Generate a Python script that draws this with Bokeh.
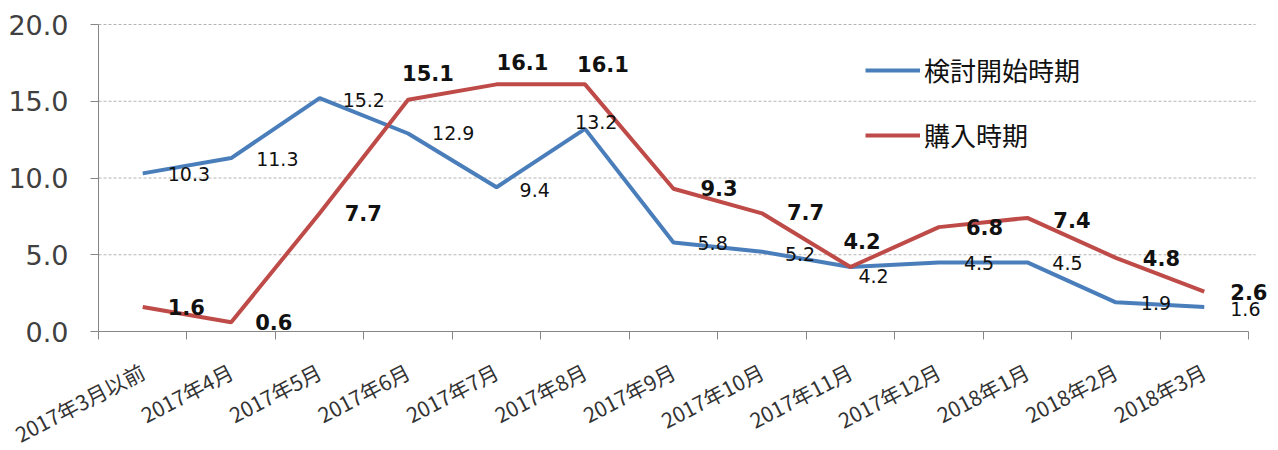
import numpy as np
from bokeh.plotting import figure
from bokeh.models import ColumnDataSource, Range1d, FixedTicker, Legend, LegendItem
from bokeh.core.properties import value
from bokeh.embed import file_html
from bokeh.resources import INLINE

categories = ["2017年3月以前", "2017年4月", "2017年5月", "2017年6月", "2017年7月",
              "2017年8月", "2017年9月", "2017年10月", "2017年11月", "2017年12月",
              "2018年1月", "2018年2月", "2018年3月"]
kentou = [10.3, 11.3, 15.2, 12.9, 9.4, 13.2, 5.8, 5.2, 4.2, 4.5, 4.5, 1.9, 1.6]
kounyu = [1.6, 0.6, 7.7, 15.1, 16.1, 16.1, 9.3, 7.7, 4.2, 6.8, 7.4, 4.8, 2.6]
series_names = ["検討開始時期", "購入時期"]
y_ticks = [0, 5, 10, 15, 20]

# label offsets (screen px) for data labels
blue_dx = [25, 25, 23, 24, 23, -10, 24, 23, 8, 25, 25, 25, 26]
blue_dy = [1, 1, 2, 0, 3, -7, 1, 2, 9, 1, 1, 1, 2]
red_dx = [25, 24, 25, -6, 0, -8, 27, 25, -7, 27, 26, 27, 26]
red_dy = [0, 0, 0, -27, -22, -20, -1, -1, -26, 0, 2, 0, 0]

n = len(categories)
xs = [i + 0.5 for i in range(n)]

BLUE = "#4a7ebb"
RED = "#be4b48"

# layout in pixels: the frame covers the whole canvas, the axes sit inside it
W, H = 1278, 450
AX_X, AX_Y = 98, 331     # pixel position of the axes' origin
AXIS_W = 1150            # pixels spanned by the 13 categories
PLOT_H = 307             # pixels spanned by 0..20
y_top = y_ticks[-1]
ux = n / AXIS_W          # data units per pixel
uy = y_top / PLOT_H
x_range = Range1d(-AX_X * ux, (W - AX_X) * ux)
y_range = Range1d(-(H - AX_Y) * uy, AX_Y * uy)

p = figure(width=W, height=H, output_backend="svg", toolbar_location=None,
           x_range=x_range, y_range=y_range,
           min_border_left=0, min_border_right=0, min_border_top=0,
           min_border_bottom=0)
p.outline_line_color = None
p.xgrid.visible = False
p.ygrid.visible = False

# horizontal dashed grid lines, stopping just past the last category
p.segment(x0=[0] * (len(y_ticks) - 1), x1=[n + 0.08] * (len(y_ticks) - 1),
          y0=y_ticks[1:], y1=y_ticks[1:], line_color="#b4b4b4",
          line_dash="3 2", line_width=1)

# x axis at y=0: labels at category centres, tick marks between categories
xa = p.xaxis[0]
xa.fixed_location = 0
xa.bounds = (0, n)
xa.ticker = FixedTicker(ticks=xs, minor_ticks=list(range(n + 1)))
xa.major_label_overrides = {x: c for x, c in zip(xs, categories)}
xa.major_tick_out = 0
xa.major_tick_in = 0
xa.minor_tick_out = 8
xa.minor_tick_in = 0
xa.minor_tick_line_color = "#868686"
xa.axis_line_color = "#868686"
xa.major_label_orientation = 0.48
xa.major_label_text_font = "Noto Sans CJK JP"
xa.major_label_text_font_size = "21px"
xa.major_label_text_color = "#333333"
xa.major_label_standoff = 30

# y axis at x=0
ya = p.yaxis[0]
ya.fixed_location = 0
ya.bounds = (0, y_top)
ya.ticker = FixedTicker(ticks=y_ticks, minor_ticks=[])
ya.major_label_overrides = {t: f"{t:.1f}" for t in y_ticks}
ya.major_tick_out = 8
ya.major_tick_in = 0
ya.major_tick_line_color = "#868686"
ya.axis_line_color = "#868686"
ya.major_label_text_font = "DejaVu Sans"
ya.major_label_text_font_size = "27px"
ya.major_label_text_color = "#404040"
ya.major_label_standoff = 22

src_b = ColumnDataSource(dict(x=xs, y=kentou, label=[f"{v:.1f}" for v in kentou], dx=blue_dx, dy=blue_dy))
src_r = ColumnDataSource(dict(x=xs, y=kounyu, label=[f"{v:.1f}" for v in kounyu], dx=red_dx, dy=red_dy))

r1 = p.line("x", "y", source=src_b, line_color=BLUE, line_width=4)
r2 = p.line("x", "y", source=src_r, line_color=RED, line_width=4)

p.text("x", "y", text="label", source=src_b, x_offset="dx", y_offset="dy",
       text_font=value("DejaVu Sans"), text_font_size="19px", text_color="#111111",
       text_align="left", text_baseline="middle")
p.text("x", "y", text="label", source=src_r, x_offset="dx", y_offset="dy",
       text_font=value("DejaVu Sans"), text_font_style="bold", text_font_size="21px",
       text_color="#111111", text_align="left", text_baseline="middle")

# legend placed in pixels from the canvas' bottom-left corner
legend = Legend(items=[LegendItem(label=series_names[0], renderers=[r1]),
                       LegendItem(label=series_names[1], renderers=[r2])],
                location=(865, 297), orientation="vertical",
                label_text_font="Noto Sans CJK JP", label_text_font_size="26px",
                label_text_color="#111111",
                glyph_width=55, glyph_height=30, label_height=30, spacing=28,
                padding=0, margin=0, label_standoff=4,
                background_fill_alpha=0, border_line_alpha=0)
p.add_layout(legend)

open("out.html", "w").write(file_html(p, INLINE))
